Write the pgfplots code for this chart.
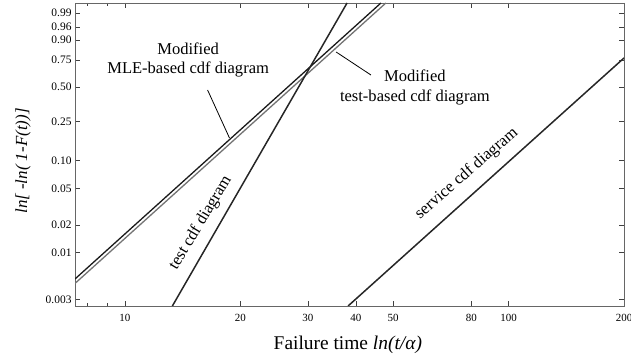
\documentclass[border=0pt]{standalone}
\usepackage{fontspec}
\setmainfont{Liberation Serif}
\usepackage{pgfplots}
\pgfplotsset{compat=1.18}

\begin{document}
\begin{tikzpicture}
\begin{axis}[
  scale only axis, width=549bp, height=303bp,
  xmode=log, xmin=7.415, xmax=200,
  ymin=-5.967, ymax=1.783,
  xtick={10,20,30,40,50,80,100,200},
  xticklabels={10,20,30,40,50,80,100,200},
  minor xtick={8,9},
  ytick={-5.808,-4.600,-3.902,-2.970,-2.250,-1.246,-0.367,0.327,0.834,1.169,1.527},
  yticklabels={0.003,0.01,0.02,0.05,0.10,0.25,0.50,0.75,0.90,0.96,0.99},
  tick align=inside, major tick length=5bp, minor tick length=3bp,
  axis line style={black!60, line width=0.9pt},
  every tick/.style={black!75, line width=0.7pt},
  xticklabel style={font=\fontsize{11}{13}\selectfont, yshift=-5bp},
  yticklabel style={font=\fontsize{11.5}{13}\selectfont},
  xlabel={Failure time \textit{ln(t/α)}},
  ylabel={\textit{ln[ -ln( 1-F(t))]}},
  xlabel style={font=\fontsize{19.5}{22}\selectfont, at={(axis description cs:0.497,-0.1287)}, anchor=center},
  ylabel style={font=\fontsize{17}{20}\selectfont, at={(axis description cs:-0.0947,0.4785)}, anchor=center, rotate=0},
]
\coordinate (O) at (rel axis cs:0,0);
% Modified MLE-based cdf diagram (upper, black)
\addplot[black!90, line width=1.3pt] coordinates {(7.415,-5.276) (46.5,1.783)};
% Modified test-based cdf diagram (lower, gray)
\addplot[black!55, line width=1.3pt] coordinates {(7.415,-5.390) (47.9,1.783)};
% test cdf diagram
\addplot[black!85, line width=1.5pt] coordinates {(13.30,-5.967) (37.95,1.783)};
% service cdf diagram
\addplot[black!85, line width=1.5pt] coordinates {(38.18,-5.967) (200,0.376)};

\node[font=\fontsize{16.6}{20}\selectfont, align=center] at (axis cs:14.62,0.325) {Modified\\MLE-based cdf diagram};
\draw[black, line width=0.8pt] (axis cs:16.43,-0.442) -- (axis cs:18.74,-1.670);
\node[font=\fontsize{16.6}{20}\selectfont, align=center] at (axis cs:57.0,-0.366) {Modified\\test-based cdf diagram};
\draw[black, line width=0.8pt] (axis cs:35.53,0.530) -- (axis cs:43.8,-0.059);
\node[font=\fontsize{16.6}{20}\selectfont, rotate=59] at (axis cs:15.76,-3.844) {test cdf diagram};
\node[font=\fontsize{16.6}{20}\selectfont, rotate=41] at (axis cs:77.8,-2.578) {service cdf diagram};
\end{axis}
\pgfresetboundingbox
\path[use as bounding box] (O) ++(-75bp,-56bp) rectangle ++(631bp,362bp);
\end{tikzpicture}
\end{document}
